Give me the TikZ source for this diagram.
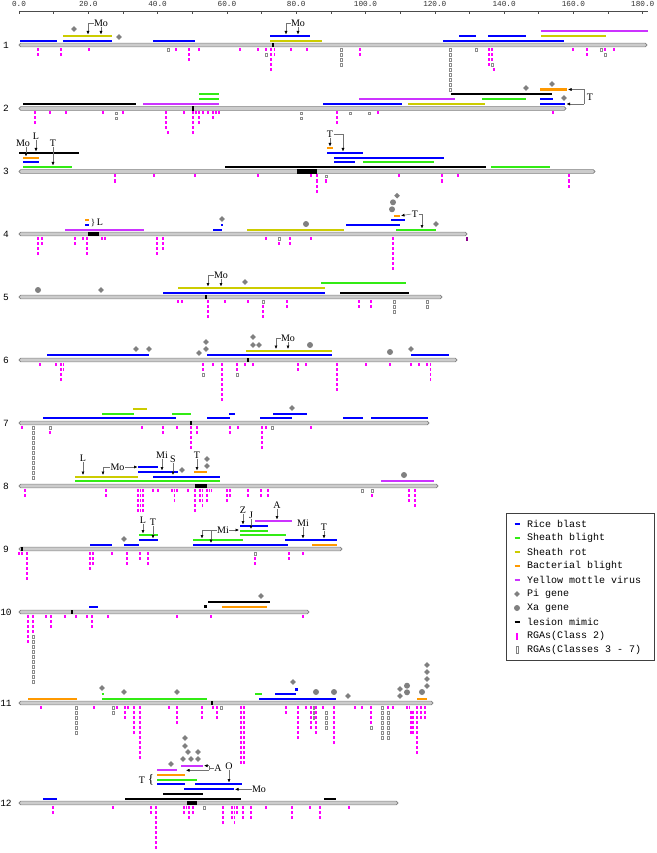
\documentclass[tikz,border=0pt]{standalone}
\usepackage{fontspec}
\setmainfont{Liberation Serif}
\newfontfamily\monof{Liberation Mono}
\usetikzlibrary{arrows.meta}
\definecolor{cblue}{RGB}{0,0,255}
\definecolor{cgreen}{RGB}{50,235,20}
\definecolor{cyel}{RGB}{204,204,0}
\definecolor{corg}{RGB}{255,153,0}
\definecolor{cvir}{RGB}{204,51,255}
\definecolor{crga}{RGB}{255,0,255}
\definecolor{cgene}{RGB}{128,128,128}
\definecolor{cchr}{RGB}{204,204,204}
\newcommand\qb[4]{\draw[line width=2.2pt,#1] (#3,#2) -- (#4,#2);}
\newcommand\pig[2]{\fill[cgene] (#1,#2) +(0,-2.8) -- +(2.8,0) -- +(0,2.8) -- +(-2.8,0) -- cycle;}
\newcommand\xag[2]{\fill[cgene] (#1,#2) circle (3pt);}
\newcommand\chrom[3]{\draw[fill=cchr,draw=black!50,line width=0.6pt,rounded corners=1.8pt] (19,#2-1.9) rectangle (#3,#2+1.9); \node[chrlab] (chr#1) at (6,#2) {#1};}
\newcommand\cen[1]{\fill[black] ({#1-1.3},{\cy-2.1}) rectangle ({#1+1.3},{\cy+2.1});}
\newcommand\lsn[2]{\fill[black] (#1,{\cy-2.2}) rectangle (#2,{\cy+2.2});}
\newcommand\rgm[3]{\foreach \k in {#2,...,#3}{\fill[crga] ({#1-0.8},{\cy+3+5*(\k-1)}) rectangle ++(1.6,3);}}
\newcommand\rgg[3]{\foreach \k in {#2,...,#3}{\draw[black!45,line width=0.35pt] ({#1-0.7},{\cy+3.3+5*(\k-1)}) rectangle ++(1.4,2.5);}}
\newcommand\lbl[5]{\node[lab] (#1) at (#2,#3) {#5}; \draw[ar] (#1.south) -- (#2,#4);}
\tikzset{
 lab/.style={font=\fontsize{10}{10}\selectfont,inner sep=0.3pt},
 ar/.style={draw=black!55,line width=0.5pt,-{Latex[length=3.5pt,width=3pt,color=black]}},
 ln/.style={draw=black!55,line width=0.5pt},
 chrlab/.style={font=\monof\fontsize{9.5}{10}\selectfont,inner sep=0pt},
 rul/.style={font=\monof\fontsize{7.7}{9}\selectfont,inner sep=0pt,text=black!80},
 leg/.style={font=\monof\fontsize{10}{10}\selectfont,anchor=west,inner sep=0pt}
}
\begin{document}
\begin{tikzpicture}[x=1pt,y=-1pt]
\fill[white] (0,0) rectangle (656,853);
\useasboundingbox (0,0) rectangle (656,853);
% ruler
\draw[black!70,line width=0.6pt] (19,11) -- (648,11);
\foreach \u in {0,10,...,180}{\draw[black!70,line width=0.6pt] ({19+3.465*\u},11) -- ++(0,3.5);}
\foreach \u in {0,20,...,180}{\node[rul] (rl\u) at ({19+3.465*\u},4) {\u.0};}

% ---------- chr 1
\def\cy{45}
\chrom{1}{45}{647}
\cen{273}
\qb{cblue}{41}{20}{57}
\qb{cblue}{41}{63}{112}
\qb{cyel}{36}{63}{112}
\qb{cblue}{41}{153}{195}
\qb{cblue}{36}{270}{310}
\qb{cyel}{41}{270}{322}
\qb{cblue}{41}{443}{564}
\qb{cblue}{36}{459}{476}
\qb{cblue}{36}{488}{526}
\qb{cyel}{36}{541}{606}
\qb{cvir}{31}{541}{648}
\pig{74}{29} \pig{119}{37}
\lbl{moa}{101}{23}{34.5}{Mo} \draw[ar] (moa.west) -| (88,34.5);
\lbl{mob}{298}{23}{34.5}{Mo} \draw[ar] (mob.west) -| (286,34.5);
\rgm{38}{1}{2} \rgm{61}{1}{2} \rgm{89}{1}{1} \rgg{168}{1}{1} \rgm{176}{1}{1} \rgm{189}{1}{3} \rgm{199}{1}{1} \rgm{240}{1}{1} \rgm{258}{1}{1} \rgm{266}{1}{1}\rgg{266}{2}{2} \rgm{271}{1}{5} \rgm{274.5}{1}{2} \rgm{291}{1}{1} \rgm{307}{1}{1} \rgg{341}{1}{4} \rgm{360}{1}{2} \rgg{450}{1}{9} \rgg{476}{1}{1} \rgm{489}{1}{4} \rgm{492}{1}{3}\rgg{492}{4}{4} \rgm{494}{5}{5} \rgm{573}{1}{1} \rgm{587}{1}{2} \rgg{601}{1}{1} \rgm{605}{1}{1}\rgg{605}{2}{2} \rgm{614}{1}{1}

% ---------- chr 2
\def\cy{108.5}
\chrom{2}{108.5}{566}
\cen{193}
\qb{black}{104}{23}{136}
\qb{cvir}{104}{143}{219}
\qb{cgreen}{94}{199}{219}
\qb{cgreen}{99}{199}{219}
\qb{cblue}{104}{323}{402}
\qb{cvir}{99}{359}{455}
\qb{cyel}{104}{408}{485}
\qb{cgreen}{99}{482}{526}
\qb{black}{94}{451}{552}
\qb{cblue}{99}{540}{553}
\qb{cblue}{104}{540}{565}
\qb{corg}{89.5}{540}{567}
\pig{526}{88} \pig{552}{84} \pig{564}{98}
\node[lab] (t2) at (590,97) {T};
\draw[ln] (584,89.5) -- (584,104);
\draw[ar] (584,89.5) -- (568,89.5);
\draw[ar] (584,104) -- (566.5,104);
\rgm{35}{1}{3} \rgm{50}{1}{1} \rgm{66}{1}{1} \rgm{103}{1}{1} \rgg{116}{1}{2} \rgm{123}{1}{1} \rgm{166}{1}{4} \rgm{168}{5}{5} \rgm{184}{1}{1} \rgm{193}{1}{5} \rgm{196}{1}{1} \rgm{199}{1}{3} \rgm{203}{1}{1} \rgm{208}{1}{1} \rgm{213}{1}{2} \rgm{216}{1}{1} \rgm{219}{1}{1} \rgg{301}{1}{2} \rgm{337}{1}{3} \rgg{350}{1}{1} \rgg{369}{1}{1} \rgm{378}{1}{1} \rgm{553}{1}{1}

% ---------- chr 3
\def\cy{171.5}
\chrom{3}{171.5}{595}
\lsn{297}{317}
\qb{black}{152.7}{19}{79}
\qb{corg}{157.7}{23}{39}
\qb{cblue}{162.3}{23}{39}
\qb{cgreen}{167}{23}{72}
\qb{black}{167}{225}{486}
\qb{corg}{148}{327}{333}
\qb{cblue}{152.7}{327}{363}
\qb{cblue}{157.7}{334}{444}
\qb{cblue}{162.3}{334}{355}
\qb{cgreen}{162.3}{363}{434}
\qb{cgreen}{167}{491}{550}
\node[lab] (mo3) at (23,143) {Mo}; \draw[ar] ([xshift=3pt]mo3.south) -- (26,156.5);
\lbl{l3}{36}{136}{151.5}{L}
\lbl{t3a}{53}{143}{165.5}{T}
\lbl{t3b}{330}{134}{146.5}{T} \draw[ar] (t3b.east) -| (343,151.5);
\rgm{115}{1}{2} \rgm{154}{1}{1} \rgm{195}{1}{1} \rgm{258}{1}{1} \rgm{311}{1}{1} \rgm{317}{1}{4} \rgg{326}{1}{1} \rgm{326}{2}{2} \rgm{399}{1}{1} \rgm{442}{1}{2} \rgm{458}{1}{1} \rgm{569}{1}{3}

% ---------- chr 4
\def\cy{234}
\chrom{4}{234}{467}
\lsn{88}{99}
\qb{corg}{220}{85}{89}
\qb{cblue}{225}{85}{89}
\qb{cvir}{230}{65}{144}
\qb{cblue}{230}{213}{222}
\fill[cblue] (221,224) rectangle (223,226);
\qb{cyel}{230}{247}{344}
\qb{cblue}{225}{346}{400}
\qb{cblue}{220}{391}{405}
\qb{corg}{215.7}{394}{400}
\qb{cgreen}{230}{396}{436}
\pig{222}{219} \xag{306}{224} \pig{436}{224} \xag{393}{202.3} \xag{392}{209.3} \pig{397}{195.7}
\node[font=\fontsize{9}{9}\selectfont,inner sep=0pt] (br4) at (93,222.5) {\}};
\node[lab] (l4) at (100,222.5) {L};
\node[lab] (t4) at (415,214) {T};
\draw[ar] (t4.west) -- (401,215.7);
\draw[ar] (t4.east) -| (422,228.5);
\rgm{38}{1}{4} \rgm{42}{1}{2} \rgm{75}{1}{2} \rgm{83}{1}{1} \rgm{87}{1}{4} \rgm{102}{1}{1} \rgm{105}{1}{1} \rgm{157}{1}{4} \rgm{163}{1}{3} \rgm{266}{1}{1} \rgg{279}{1}{1} \rgm{279}{2}{2} \rgm{290}{1}{2} \rgm{311}{1}{1} \rgm{393}{1}{7}
\fill[crga!55!black] (466.2,237) rectangle ++(1.6,3.5);

% ---------- chr 5
\def\cy{297}
\chrom{5}{297}{442}
\cen{206}
\qb{cblue}{292.7}{163}{325}
\qb{cyel}{288}{178}{325}
\qb{cgreen}{283.3}{321}{406}
\qb{black}{292.7}{340}{409}
\xag{38}{290} \pig{101}{290} \pig{245}{282}
\lbl{mo5}{221}{275}{286.5}{Mo} \draw[ar] (mo5.west) -| (208,286.5);
\rgm{178}{1}{1} \rgm{182}{1}{1} \rgm{208}{1}{4} \rgm{225}{1}{1} \rgm{248}{1}{1} \rgg{263}{1}{1} \rgm{263}{2}{4} \rgm{287}{1}{2} \rgm{359}{1}{2} \rgm{371}{1}{2} \rgg{394}{1}{3} \rgg{427}{1}{2}

% ---------- chr 6
\def\cy{360}
\chrom{6}{360}{457}
\cen{248}
\qb{cblue}{355.3}{47}{149}
\qb{cblue}{355.3}{207}{332}
\qb{cblue}{355.3}{411}{449}
\qb{cyel}{350.7}{246}{332}
\pig{136}{349} \pig{149}{349} \pig{199}{353} \pig{206}{342} \pig{206}{349} \pig{253}{337} \pig{253}{345} \pig{259}{345} \xag{310}{345} \xag{390}{352} \pig{411}{349}
\lbl{mo6}{288}{338}{349}{Mo} \draw[ar] (mo6.west) -| (276,349);
\rgm{40}{1}{1} \rgm{56}{1}{1} \rgm{61}{1}{4} \rgm{63.5}{1}{2} \rgm{203}{1}{2}\rgg{203}{3}{3} \rgm{213}{1}{1} \rgm{222}{1}{8} \rgm{237}{1}{2}\rgg{237}{3}{3} \rgm{245}{1}{1} \rgm{253}{1}{1} \rgm{298}{1}{2} \rgm{306}{1}{1} \rgm{337}{1}{6} \rgm{366}{1}{1} \rgm{390}{1}{1} \rgm{411}{1}{1} \rgm{419}{1}{1} \rgm{427}{1}{1} \rgm{430.5}{1}{4}

% ---------- chr 7
\def\cy{423}
\chrom{7}{423}{429}
\cen{191}
\qb{cblue}{418.3}{43}{176}
\qb{cblue}{418.3}{207}{230}
\qb{cblue}{418.3}{260}{292}
\qb{cblue}{418.3}{343}{363}
\qb{cblue}{418.3}{371}{428}
\qb{cgreen}{413.7}{102}{134}
\qb{cgreen}{413.7}{172}{191}
\qb{cyel}{409}{133}{147}
\qb{cblue}{413.7}{229}{235}
\qb{cblue}{413.7}{273}{307}
\pig{292}{408}
\rgm{22}{1}{1} \rgg{33}{1}{11} \rgg{50}{1}{1}\rgm{50}{2}{2} \rgm{142}{1}{1} \rgm{163}{1}{2} \rgm{177}{1}{1} \rgm{191}{1}{5} \rgm{197}{1}{2} \rgm{230}{1}{2} \rgm{238}{1}{1} \rgm{262}{1}{5} \rgm{266}{1}{1} \rgg{272}{1}{1} \rgm{311}{1}{1}

% ---------- chr 8
\def\cy{486}
\chrom{8}{486}{438}
\lsn{195}{207}
\qb{cyel}{476.7}{75}{138}
\qb{cgreen}{481.3}{75}{220}
\qb{cblue}{467}{138}{158}
\qb{cblue}{472}{138}{178}
\qb{cblue}{476.7}{153}{220}
\qb{corg}{472}{194}{207}
\qb{cvir}{481.3}{381}{434}
\pig{207}{459} \pig{207}{466} \pig{182}{470} \xag{404}{475}
\lbl{l8}{83}{458}{475}{L}
\node[lab] (mo8) at (117.5,467) {Mo}; \draw[ar] (mo8.west) -| (103,475); \draw[ar] (mo8.east) -- (137.5,467);
\lbl{mi8}{162}{455}{470.5}{Mi}
\lbl{s8}{173}{459}{475}{S}
\lbl{t8}{197}{455}{470.5}{T}
\rgm{25}{1}{2} \rgm{106}{1}{2} \rgm{138}{1}{5} \rgm{140.5}{1}{5} \rgm{143}{1}{5} \rgm{153}{1}{1} \rgm{158}{1}{1} \rgm{172}{1}{1} \rgm{174.5}{1}{3} \rgm{177}{1}{1} \rgm{188}{1}{1} \rgm{195}{1}{5} \rgm{200}{1}{3} \rgm{202.5}{1}{4} \rgm{207}{1}{3} \rgm{209.5}{1}{1} \rgm{211.5}{1}{1} \rgm{227}{1}{3} \rgm{230}{1}{2} \rgm{248}{1}{2} \rgm{261}{1}{2} \rgm{268}{1}{2} \rgg{362}{1}{1} \rgg{372}{1}{1}\rgm{372}{2}{2} \rgm{409}{1}{3} \rgm{415}{1}{4}

% ---------- chr 9
\def\cy{549}
\chrom{9}{549}{342}
\cen{22}
\qb{cblue}{544.7}{90}{112}
\qb{cblue}{544.7}{124}{139}
\qb{cblue}{544.7}{193}{288}
\qb{cgreen}{535.3}{139}{158}
\qb{cblue}{540}{139}{158}
\qb{cgreen}{540}{193}{243}
\qb{cblue}{526}{240}{268}
\qb{cgreen}{530.7}{240}{268}
\qb{cgreen}{535.3}{240}{286}
\qb{cvir}{521}{255}{292}
\qb{cblue}{540}{285}{337}
\qb{corg}{544.7}{312}{337}
\pig{124}{539}
\lbl{l9}{143}{520}{533.5}{L}
\lbl{t9a}{153}{522}{538.5}{T}
\node[lab] (mi9a) at (223,530) {Mi};
\draw[ln] (mi9a.west) -- (202,530);
\draw[ar] (202,530) -- (202,538.5);
\draw[ar] (211,530) -- (211,543);
\draw[ar] (mi9a.east) -- (239,530);
\lbl{z9}{243}{510}{524.5}{Z}
\lbl{j9}{251}{515}{529}{J}
\lbl{a9}{277}{505}{519.5}{A}
\lbl{mi9b}{303}{523}{538.5}{Mi}
\lbl{t9b}{324}{527}{538.5}{T}
\rgm{19}{1}{1} \rgm{22}{1}{1} \rgm{27}{1}{6} \rgm{90}{1}{4} \rgm{93}{1}{3} \rgm{112}{1}{1} \rgm{127}{1}{3} \rgm{140}{1}{2} \rgm{148}{1}{3} \rgg{255}{1}{1}\rgm{255}{2}{3} \rgm{289}{1}{2} \rgm{303}{1}{1}

% ---------- chr 10
\def\cy{612}
\chrom{10}{612}{309}
\cen{72}
\qb{cblue}{606.7}{89}{98}
\qb{black}{602.3}{208}{270}
\qb{corg}{606.7}{222}{267}
\fill[black] (203.5,604.5) rectangle (206.5,607.5);
\pig{261}{596}
\rgm{28}{1}{6} \rgm{33}{1}{4} \rgg{33}{5}{14} \rgm{46}{1}{1} \rgm{51}{1}{3} \rgm{65}{1}{1} \rgm{76}{1}{1} \rgm{87}{1}{1} \rgm{92}{1}{3} \rgm{108}{1}{1} \rgm{177}{1}{1} \rgm{211}{1}{1} \rgm{303}{1}{1}

% ---------- chr 11
\def\cy{703}
\chrom{11}{703}{433}
\cen{212}
\qb{corg}{698.7}{28}{77}
\qb{cgreen}{694}{101.5}{104}
\qb{cgreen}{698.7}{102}{207}
\qb{cgreen}{694}{255}{262}
\qb{cblue}{698.7}{259}{336}
\qb{cblue}{694}{275}{296}
\fill[cblue] (295,688) rectangle (297.5,690.5);
\qb{corg}{698.7}{417}{427}
\pig{102}{688} \pig{124}{692} \pig{177}{692} \pig{293}{682} \xag{316}{692} \xag{334}{692} \pig{348}{696} \pig{400}{689} \pig{400}{696} \xag{407}{685.7} \xag{407}{692.3} \xag{422}{692} \pig{427}{665} \pig{427}{672} \pig{427}{679} \pig{427}{686}
\rgm{41}{1}{1} \rgg{76}{1}{6} \rgm{94}{1}{1} \rgg{113}{1}{2} \rgm{117}{1}{1} \rgm{125}{1}{3} \rgm{128}{1}{1} \rgm{134}{1}{6} \rgm{140}{1}{11} \rgm{169}{1}{1} \rgm{177}{1}{4} \rgm{202}{1}{3} \rgm{213}{1}{1} \rgm{217}{1}{3} \rgg{221}{1}{1} \rgm{241}{1}{12} \rgm{244}{1}{12} \rgm{286}{1}{2} \rgm{298}{1}{7} \rgm{306}{1}{1} \rgm{311}{1}{5} \rgg{313.5}{1}{3} \rgm{316}{1}{6} \rgm{323}{1}{1} \rgg{326}{2}{5}
\rgm{334}{1}{8} \rgm{355}{1}{1} \rgm{362}{1}{1} \rgm{371}{1}{4}\rgg{371}{5}{5} \rgg{382}{1}{7} \rgm{388}{1}{1}\rgg{388}{2}{7} \rgm{393}{1}{1} \rgm{407}{1}{1} \rgm{409.5}{1}{1} \rgm{411}{2}{6} \rgm{413}{2}{6} \rgm{417}{1}{10} \rgm{421}{1}{3} \rgm{425}{1}{3}

% ---------- chr 12
\def\cy{803}
\chrom{12}{803}{398}
\lsn{187}{197}
\qb{cblue}{799}{43}{57}
\qb{black}{799}{125}{241}
\qb{black}{794.3}{163}{203}
\qb{cblue}{789.3}{184}{234}
\qb{cblue}{784.3}{195}{242}
\qb{cblue}{784.3}{157}{185}
\qb{cgreen}{779.7}{157}{197}
\qb{corg}{775}{157}{185}
\qb{cvir}{770.3}{157}{177}
\qb{cvir}{765.7}{181}{203}
\qb{black}{799}{324}{336}
\pig{171}{764} \pig{183}{759} \pig{191}{759} \pig{198}{759} \pig{188}{752} \pig{198}{752} \pig{185}{746} \pig{185}{738}
\lbl{o12}{229}{766}{782.5}{O}
\node[lab] (mo12) at (259,789.3) {Mo}; \draw[ar] (mo12.west) -- (235,789.3);
\node[lab] (a12) at (218,768) {A};
\draw[ln] (209,765.7) -- (209,770.3);
\draw[ln] (a12.west) -- (209,768);
\draw[ar] (209,765.7) -- (204,765.7);
\draw[ar] (209,770.3) -- (186,770.3);
\node[lab] (t12) at (142,780) {T};
\node[font=\fontsize{13}{13}\selectfont,inner sep=0pt] (br12) at (151,779.5) {\{};
\rgm{53}{1}{2} \rgm{113}{1}{1} \rgm{151}{1}{2} \rgm{156}{1}{9} \rgm{184}{1}{2} \rgm{186.5}{1}{1} \rgm{189}{1}{3} \rgm{193}{1}{2} \rgg{204}{1}{1} \rgm{223}{1}{4} \rgm{232}{1}{3} \rgm{234.5}{1}{4} \rgm{237}{1}{2} \rgm{243}{1}{3} \rgm{251}{1}{3} \rgm{266}{1}{1} \rgm{292}{1}{3} \rgm{310}{1}{1} \rgm{320}{1}{3} \rgm{349}{1}{1}

% ---------- legend
\draw[black!75,line width=0.8pt] (506,513) rectangle (654,660);
\qb{cblue}{524}{514.5}{519.5}
\qb{cgreen}{538}{514.5}{519.5}
\qb{cyel}{552}{514.5}{519.5}
\qb{corg}{566}{514.5}{519.5}
\qb{cvir}{580}{514.5}{519.5}
\pig{517}{594}
\xag{517}{608}
\qb{black}{622}{514.5}{519.5}
\fill[crga] (516,632.5) rectangle (518,639.5);
\draw[black!50,line width=0.4pt] (516.2,646.5) rectangle (518.2,653.5);
\node[leg] (lg1) at (527,524) {Rice blast};
\node[leg] (lg2) at (527,538) {Sheath blight};
\node[leg] (lg3) at (527,552) {Sheath rot};
\node[leg] (lg4) at (527,566) {Bacterial blight};
\node[leg] (lg5) at (527,580) {Yellow mottle virus};
\node[leg] (lg6) at (527,594) {Pi gene};
\node[leg] (lg7) at (527,608) {Xa gene};
\node[leg] (lg8) at (527,622) {lesion mimic};
\node[leg] (lg9) at (527,636) {RGAs(Class 2)};
\node[leg] (lg10) at (527,650) {RGAs(Classes 3 - 7)};
\end{tikzpicture}
\end{document}
